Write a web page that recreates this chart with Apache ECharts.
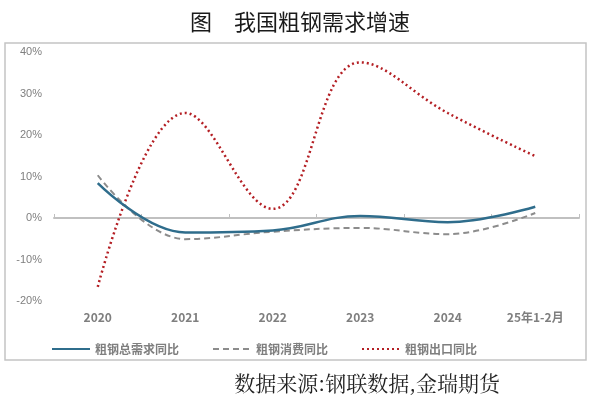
<!DOCTYPE html>
<html>
<head>
<meta charset="utf-8">
<title>我国粗钢需求增速</title>
<script src="https://cdn.jsdelivr.net/npm/echarts@6/dist/echarts.min.js"></script>
<style>
  html, body { margin: 0; padding: 0; background: #fff; }
  #chart { width: 600px; height: 398px; }
</style>
</head>
<body>
<div id="chart"></div>
<script>
// categories and series (percent, yoy)
var categories = ['2020', '2021', '2022', '2023', '2024', '25年1-2月']
var totalDemand = [8.4, -3.5, -3.0, 0.5, -1.0, 2.7]
var consumption = [10.3, -5.1, -3.3, -2.4, -3.9, 1.2]
var exports = [-16.6, 25.3, 2.2, 37.5, 25.3, 14.9]
var yTicks = [-20, -10, 0, 10, 20, 30, 40]

var seriesNames = ['粗钢总需求同比', '粗钢消费同比', '粗钢出口同比']
var labelFont = '"Noto Sans CJK SC", "Noto Sans", sans-serif'

function RenderChart() {
  var dom = document.getElementById('chart')
  var myChart = echarts.init(dom, null, { renderer: 'canvas' })
  var option

  option = {
    animation: false,
    backgroundColor: '#fff',
    title: {
      text: '图　我国粗钢需求增速',
      left: 'center',
      top: 6,
      textStyle: {
        fontFamily: labelFont,
        fontSize: 22,
        fontWeight: 'normal',
        color: '#1a1a1a'
      }
    },
    graphic: [
      {
        type: 'rect',
        shape: { x: 5, y: 43, width: 581, height: 317 },
        style: { fill: 'none', stroke: '#c4c4c4', lineWidth: 1.5 },
        z: -1
      },
      {
        type: 'text',
        right: 100,
        top: 373,
        style: {
          text: '数据来源:钢联数据,金瑞期货',
          font: '21px "Noto Serif CJK SC", "Noto Sans CJK SC", serif',
          fill: '#222'
        }
      }
    ],
    legend: {
      top: 338,
      left: 46,
      itemWidth: 38,
      itemHeight: 10,
      itemGap: 33,
      itemStyle: { opacity: 0 },
      textStyle: {
        fontFamily: labelFont,
        fontSize: 12,
        fontWeight: 'bold',
        color: '#7f7f7f'
      },
      data: seriesNames
    },
    grid: {
      left: 54,
      right: 21,
      top: 52,
      bottom: 97
    },
    xAxis: [
      {
        type: 'category',
        data: categories,
        position: 'bottom',
        axisLine: { show: false, onZero: false },
        axisTick: { show: false },
        axisLabel: {
          margin: 10,
          fontFamily: labelFont,
          fontSize: 12,
          fontWeight: 'bold',
          color: '#7f7f7f'
        }
      },
      {
        type: 'category',
        data: categories,
        position: 'bottom',
        axisLine: { onZero: true, lineStyle: { color: '#c0c0c0', width: 2 } },
        axisTick: { show: true, length: 4, inside: true, lineStyle: { color: '#c0c0c0', width: 1 } },
        axisLabel: { show: false }
      }
    ],
    yAxis: {
      type: 'value',
      min: yTicks[0],
      max: yTicks[yTicks.length - 1],
      interval: 10,
      splitLine: { show: false },
      axisLine: { show: false },
      axisTick: { show: false },
      axisLabel: {
        margin: 12,
        fontFamily: '"Liberation Sans Narrow", "Liberation Sans", sans-serif',
        fontSize: 11,
        color: '#7f7f7f',
        formatter: function (v) { return v + '%' }
      }
    },
    series: [
      {
        name: seriesNames[0],
        type: 'line',
        xAxisIndex: 0,
        data: totalDemand,
        smooth: 0.4,
        symbol: 'none',
        z: 4,
        itemStyle: { color: '#2f6d8c' },
        lineStyle: { color: '#2f6d8c', width: 2.5 }
      },
      {
        name: seriesNames[1],
        type: 'line',
        xAxisIndex: 0,
        data: consumption,
        smooth: 0.4,
        symbol: 'none',
        z: 3,
        itemStyle: { color: '#8c8c8c' },
        lineStyle: { color: '#8c8c8c', width: 2, type: [6, 4] }
      },
      {
        name: seriesNames[2],
        type: 'line',
        xAxisIndex: 0,
        data: exports,
        smooth: 0.4,
        symbol: 'none',
        z: 2,
        itemStyle: { color: '#b41f24' },
        lineStyle: { color: '#b41f24', width: 2.5, type: [2, 3] }
      }
    ]
  }

  if (option && typeof option === 'object') {
    myChart.setOption(option)
  }
}

window.onload = RenderChart
</script>
</body>
</html>
